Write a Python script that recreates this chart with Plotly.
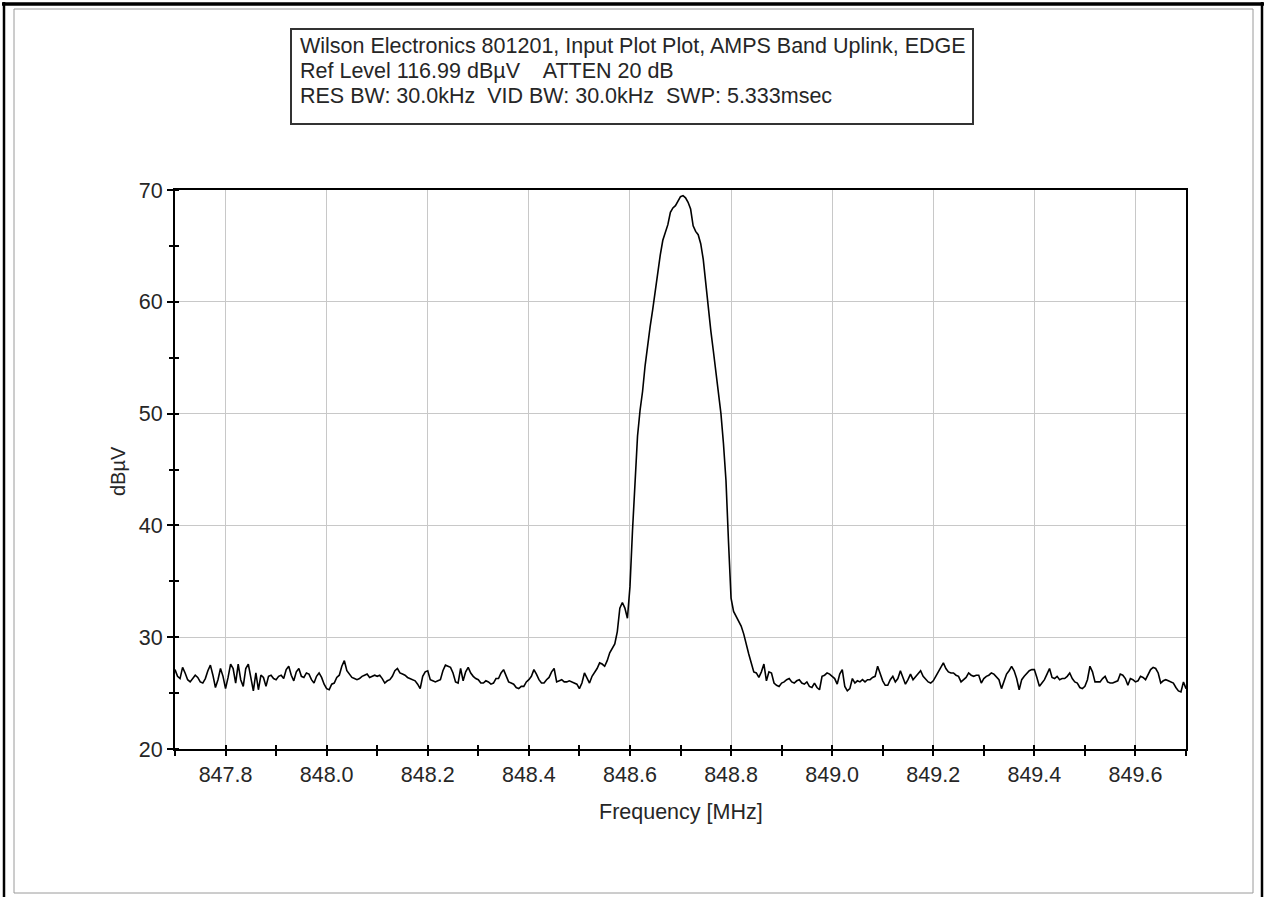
import numpy as np
import plotly.graph_objects as go

# ---------------- data ----------------
f_start = 847.7
f_stop = 849.7
levels_dbuv = [
    27.1, 26.5, 26.3, 27.3, 26.8, 26.2, 26.0, 26.3, 26.6, 26.4,
    26.0, 25.9, 26.3, 27.0, 27.5, 26.6, 25.5, 26.2, 27.2, 26.5,
    25.4, 26.4, 27.6, 27.2, 25.9, 27.6, 26.2, 25.6, 27.2, 27.6,
    26.3, 25.2, 26.8, 25.3, 26.6, 26.4, 25.6, 26.5, 26.6, 26.3,
    26.2, 26.5, 26.6, 26.3, 27.1, 27.4, 26.6, 26.1, 26.9, 27.2,
    26.5, 26.4, 26.8, 26.7, 26.2, 25.9, 26.5, 26.8, 26.4, 25.8,
    25.4, 25.3, 25.8, 25.9, 26.4, 26.6, 27.4, 27.9, 27.0, 26.7,
    26.4, 26.3, 26.2, 26.3, 26.5, 26.6, 26.7, 26.4, 26.5, 26.6,
    26.5, 26.6, 26.3, 25.9, 26.1, 26.2, 26.5, 27.0, 27.2, 26.8,
    26.7, 26.6, 26.4, 26.3, 26.2, 26.1, 25.8, 25.4, 26.5, 26.9,
    27.0, 26.2, 26.1, 26.0, 26.1, 26.2, 27.0, 27.5, 27.4, 27.3,
    26.8, 26.0, 25.9, 27.2, 26.1, 26.9, 27.3, 26.8, 26.5, 26.3,
    26.2, 25.9, 25.9, 26.1, 26.0, 25.8, 25.9, 26.3, 26.3, 26.8,
    27.1, 26.6, 26.0, 25.9, 25.8, 25.5, 25.4, 25.6, 25.6, 26.0,
    26.2, 26.5, 27.1, 26.7, 26.2, 25.9, 25.9, 26.2, 26.4, 26.9,
    27.2, 26.0, 26.1, 26.2, 26.0, 26.0, 26.1, 26.0, 25.9, 25.8,
    25.4, 25.9, 26.8, 26.4, 25.9, 26.5, 26.8, 27.2, 27.7, 27.6,
    27.4, 27.9, 28.6, 29.0, 29.4, 30.5, 32.6, 33.1, 32.6, 31.7,
    34.5, 39.5, 44.0, 48.0, 50.3, 52.0, 54.3, 56.2, 57.8, 59.3,
    61.0, 62.6, 64.2, 65.5, 66.3, 66.9, 68.0, 68.4, 68.6, 69.0,
    69.4, 69.5, 69.3, 68.9, 68.3, 66.8, 66.3, 66.0, 65.2, 63.8,
    61.5, 59.3, 57.4, 55.6, 53.8, 51.8, 50.0, 47.3, 44.0, 38.5,
    33.5, 32.3, 31.9, 31.5, 31.0, 30.3, 29.3, 28.5, 27.7, 26.9,
    26.8, 26.4, 26.9, 27.6, 26.1, 26.9, 26.8, 25.9, 25.7, 25.6,
    25.9, 26.0, 26.2, 26.3, 26.0, 25.9, 26.1, 26.2, 25.9, 25.8,
    26.0, 25.6, 25.5, 25.9, 25.5, 25.3, 26.5, 26.6, 26.8, 26.7,
    26.5, 26.3, 25.8, 26.7, 27.1, 25.6, 25.2, 25.4, 26.3, 25.9,
    26.1, 26.0, 26.2, 26.0, 26.2, 26.2, 26.4, 26.5, 27.4, 26.8,
    26.1, 25.7, 25.7, 26.2, 26.5, 26.0, 26.3, 27.0, 26.3, 25.8,
    26.2, 26.7, 26.2, 26.5, 26.8, 27.0, 26.5, 26.2, 26.0, 25.9,
    26.1, 26.5, 26.9, 27.3, 27.7, 27.2, 26.9, 26.8, 26.8, 26.6,
    26.5, 26.0, 26.2, 26.4, 26.8, 26.6, 26.5, 26.6, 26.6, 25.9,
    26.3, 26.5, 26.6, 26.8, 26.7, 26.4, 26.2, 25.4, 26.1, 26.7,
    27.0, 27.4, 27.0, 26.3, 25.3, 26.2, 26.5, 26.8, 27.0, 27.1,
    27.1, 26.4, 25.6, 25.9, 26.2, 26.7, 27.2, 26.4, 26.3, 26.5,
    26.2, 26.3, 26.3, 26.5, 26.8, 26.3, 26.0, 25.9, 25.5, 25.4,
    25.6, 26.2, 27.4, 26.9, 26.0, 26.0, 26.0, 26.3, 26.5, 26.0,
    25.9, 25.9, 26.0, 26.1, 26.7, 26.6, 26.3, 25.7, 26.3, 26.2,
    26.0, 26.1, 26.5, 26.4, 26.2, 26.6, 27.1, 27.3, 27.2, 26.8,
    25.9, 26.1, 26.2, 26.1, 26.0, 25.9, 25.5, 25.2, 25.1, 26.0,
    25.4,
]
freq_mhz = np.linspace(f_start, f_stop, len(levels_dbuv))

x_tick_vals = [847.8, 848.0, 848.2, 848.4, 848.6, 848.8, 849.0, 849.2, 849.4, 849.6]
x_tick_text = ["847.8", "848.0", "848.2", "848.4", "848.6", "848.8", "849.0", "849.2", "849.4", "849.6"]
y_tick_vals = [20, 30, 40, 50, 60, 70]

header_lines = [
    "Wilson Electronics 801201, Input Plot Plot, AMPS Band Uplink, EDGE",
    "Ref Level 116.99 dBµV    ATTEN 20 dB",
    "RES BW: 30.0kHz  VID BW: 30.0kHz  SWP: 5.333msec",
]
x_title = "Frequency [MHz]"
y_title = "dBµV"

# ---------------- layout geometry (pixels) ----------------
W, H = 1267, 897
PL, PR, PT, PB = 175, 1186, 190, 749


def px(x):
    return (x - PL) / (PR - PL)


def py(y):
    return (PB - y) / (PB - PT)


FONT = "Liberation Sans, Arial, sans-serif"
TXT = "#262626"

fig = go.Figure()
fig.add_trace(go.Scatter(x=freq_mhz, y=levels_dbuv, mode="lines",
                         line=dict(color="black", width=1.6),
                         showlegend=False, hoverinfo="skip"))
# invisible trace to activate overlay axes (inside ticks)
fig.add_trace(go.Scatter(x=[f_start], y=[20], xaxis="x2", yaxis="y2",
                         mode="markers", marker=dict(opacity=0),
                         showlegend=False, hoverinfo="skip"))

axis_common = dict(showline=True, linecolor="black", linewidth=2,
                   mirror=True, zeroline=False)

fig.update_layout(
    width=W, height=H, autosize=False,
    margin=dict(l=PL, r=W - PR, t=PT, b=H - PB, pad=0),
    paper_bgcolor="white", plot_bgcolor="white",
    font=dict(family=FONT, size=21, color=TXT),
    xaxis=dict(range=[f_start, f_stop], tickvals=x_tick_vals, ticktext=x_tick_text,
               ticks="outside", ticklen=5, tickwidth=1.5, tickcolor="black",
               showgrid=True, gridcolor="#c8c8c8", gridwidth=1.2,
               minor=dict(dtick=0.1, tick0=847.7, ticks="outside", ticklen=5,
                          tickwidth=1.5, tickcolor="black", showgrid=False),
               tickfont=dict(size=21.5, family=FONT, color=TXT),
               **axis_common),
    yaxis=dict(range=[20, 70], tickvals=y_tick_vals,
               ticks="outside", ticklen=6, tickwidth=1.5, tickcolor="black",
               showgrid=True, gridcolor="#c8c8c8", gridwidth=1.2,
               minor=dict(dtick=5, tick0=0, ticks="outside", ticklen=4,
                          tickwidth=1.5, tickcolor="black", showgrid=False),
               tickfont=dict(size=21.5, family=FONT, color=TXT),
               **axis_common),
    xaxis2=dict(range=[f_start, f_stop], overlaying="x", anchor="y2",
                tickvals=x_tick_vals, ticks="inside", ticklen=4, tickwidth=1.5,
                tickcolor="black", showticklabels=False, showgrid=False,
                showline=False, zeroline=False,
                minor=dict(dtick=0.1, tick0=847.7, ticks="inside", ticklen=4,
                           tickwidth=1.5, tickcolor="black")),
    yaxis2=dict(range=[20, 70], overlaying="y", anchor="x2",
                tickvals=y_tick_vals, ticks="", showticklabels=False,
                showgrid=False, showline=False, zeroline=False,
                minor=dict(dtick=5, tick0=0, ticks="inside", ticklen=4,
                           tickwidth=1.5, tickcolor="black")),
)

shapes = []
# outer frame
shapes.append(dict(type="line", xref="paper", yref="paper",
                   x0=px(2), x1=px(1264), y0=py(4), y1=py(4),
                   line=dict(color="black", width=3.5)))
shapes.append(dict(type="line", xref="paper", yref="paper",
                   x0=px(4), x1=px(4), y0=py(2), y1=py(900),
                   line=dict(color="black", width=2.5)))
shapes.append(dict(type="line", xref="paper", yref="paper",
                   x0=px(1262), x1=px(1262), y0=py(2), y1=py(900),
                   line=dict(color="black", width=2.5)))
# inner light frame
shapes.append(dict(type="rect", xref="paper", yref="paper",
                   x0=px(14), x1=px(1253), y0=py(9), y1=py(893),
                   line=dict(color="#9a9a9a", width=1)))
# header box
shapes.append(dict(type="rect", xref="paper", yref="paper",
                   x0=px(291), x1=px(973), y0=py(124), y1=py(29),
                   line=dict(color="#333333", width=2), fillcolor="white"))
fig.update_layout(shapes=shapes)

annotations = []
for i, line in enumerate(header_lines):
    annotations.append(dict(text=line, xref="paper", yref="paper",
                            x=px(298), y=py(46 + 25 * i), xanchor="left",
                            yanchor="middle", showarrow=False,
                            font=dict(size=21.5, family=FONT, color=TXT)))
annotations.append(dict(text=x_title, xref="paper", yref="paper",
                        x=px(681), y=py(812), xanchor="center", yanchor="middle",
                        showarrow=False, font=dict(size=21.5, family=FONT, color=TXT)))
annotations.append(dict(text=y_title, xref="paper", yref="paper",
                        x=px(118), y=py(471), xanchor="center", yanchor="middle",
                        textangle=-90, showarrow=False,
                        font=dict(size=20, family=FONT, color=TXT)))
fig.update_layout(annotations=annotations)

fig.write_html("out.html", config={"displayModeBar": False},
               post_script="document.body.style.margin='0';")
